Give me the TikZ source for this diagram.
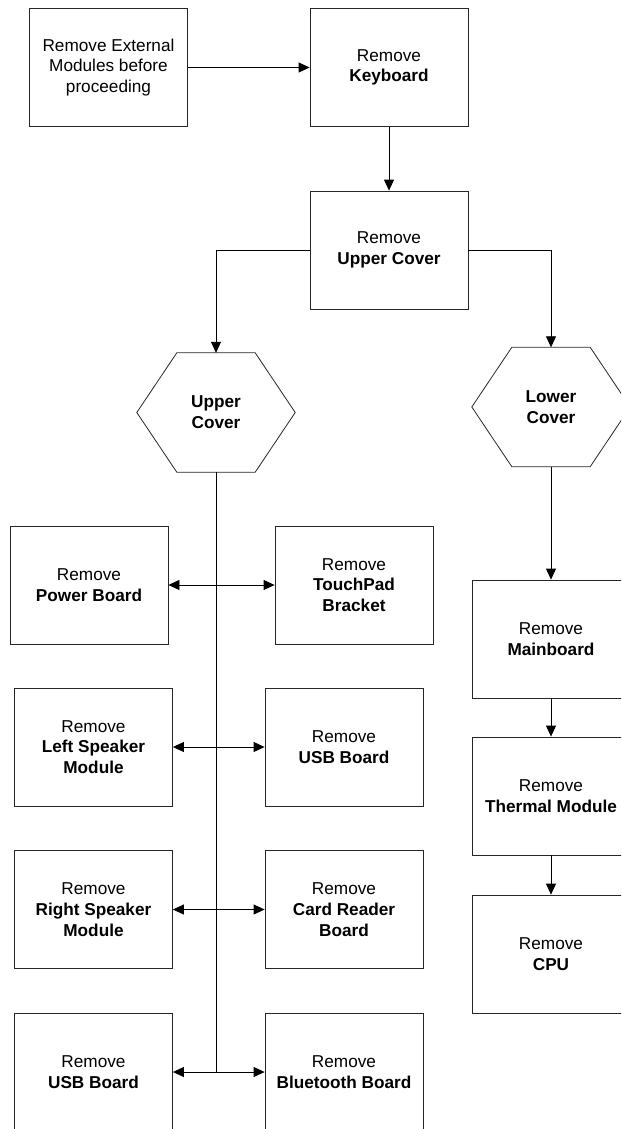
\documentclass[tikz,border=0pt]{standalone}
\usepackage{fontspec}
\setmainfont{Liberation Sans}
\usetikzlibrary{arrows.meta}
\begin{document}
\begin{tikzpicture}[x=1pt,y=-1pt,
  box/.style={draw=black!85, line width=0.8pt, minimum width=158pt, minimum height=118pt, inner sep=0pt, align=center, font=\fontsize{17.2}{20.7}\selectfont},
  hexnode/.style={minimum width=158pt, minimum height=119pt, inner sep=0pt, align=center, font=\fontsize{17.2}{20.7}\selectfont\bfseries},
  hexline/.style={draw=black!85, line width=0.8pt},
  conn/.style={line width=0.8pt, -{Triangle[length=11pt,width=10pt]}},
  plainline/.style={line width=0.8pt},
  both/.style={line width=0.8pt, {Triangle[length=11pt,width=10pt]}-{Triangle[length=11pt,width=10pt]}}]
\useasboundingbox (0,0) rectangle (621,1129);
\clip (0,0) rectangle (621,1129);

\node[box] (b1) at (108.5,67.5) {Remove External\\Modules before\\proceeding};
\node[box] (b2) at (389,67.5) {Remove\\\textbf{Keyboard}};
\node[box] (b3) at (389,250) {Remove\\\textbf{Upper Cover}};

\node[hexnode] (uc) at (216,412.5) {Upper\\Cover};
\node[hexnode] (lc) at (551,407) {Lower\\Cover};
\draw[hexline] ([xshift=40pt]uc.north west) -- ([xshift=-40pt]uc.north east) -- (uc.east) -- ([xshift=-40pt]uc.south east) -- ([xshift=40pt]uc.south west) -- (uc.west) -- cycle;
\draw[hexline] ([xshift=40pt]lc.north west) -- ([xshift=-40pt]lc.north east) -- (lc.east) -- ([xshift=-40pt]lc.south east) -- ([xshift=40pt]lc.south west) -- (lc.west) -- cycle;

\node[box] (pb) at (89,585) {Remove\\\textbf{Power Board}};
\node[box] (tp) at (354,585) {Remove\\\textbf{TouchPad}\\\textbf{Bracket}};
\node[box] (ls) at (93.5,747) {Remove\\\textbf{Left Speaker}\\\textbf{Module}};
\node[box] (usba) at (344,747) {Remove\\\textbf{USB Board}};
\node[box] (rs) at (93.5,909.5) {Remove\\\textbf{Right Speaker}\\\textbf{Module}};
\node[box] (cr) at (344,909.5) {Remove\\\textbf{Card Reader}\\\textbf{Board}};
\node[box] (usbb) at (93.5,1072) {Remove\\\textbf{USB Board}};
\node[box] (bt) at (344,1072) {Remove\\\textbf{Bluetooth Board}};

\node[box] (mb) at (551,639) {Remove\\\textbf{Mainboard}};
\node[box] (tm) at (551,796) {Remove\\\textbf{Thermal Module}};
\node[box] (cpu) at (551,954) {Remove\\\textbf{CPU}};

\draw[conn] (b1.east) -- (b2.west);
\draw[conn] (b2.south) -- (b3.north);
\draw[conn] (b3.west) -| (uc.north);
\draw[conn] (b3.east) -| (lc.north);
\draw[conn] (lc.south) -- (mb.north);
\draw[conn] (mb.south) -- (tm.north);
\draw[conn] (tm.south) -- (cpu.north);

\coordinate (vend) at (216,1072);
\draw[plainline] (uc.south) -- (vend);
\draw[both] (pb.east) -- (tp.west);
\draw[both] (ls.east) -- (usba.west);
\draw[both] (rs.east) -- (cr.west);
\draw[both] (usbb.east) -- (bt.west);
\end{tikzpicture}
\end{document}
